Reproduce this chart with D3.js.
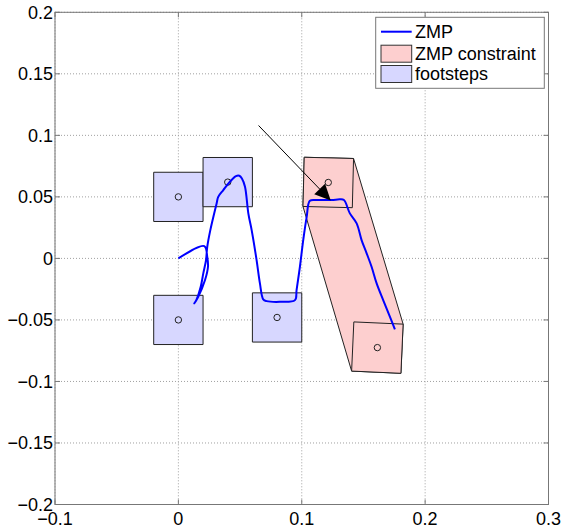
<!DOCTYPE html>
<html>
<head>
<meta charset="utf-8">
<script src="https://cdn.jsdelivr.net/npm/d3@7"></script>
<style>
  body { margin: 0; background: #fff; }
  svg { display: block; font-family: 'Liberation Sans', Arial, sans-serif; }
</style>
</head>
<body>
<div id="chart"></div>
<script>
// ZMP trajectory
const zmpX = [0, 0.021, 0.0234, 0.024, 0.0216, 0.0161, 0.0129, 0.0148, 0.0181, 0.0202, 0.0224, 0.0234,
  0.0259, 0.031, 0.0323, 0.0364, 0.0418, 0.0467, 0.0494, 0.0515, 0.054, 0.0567, 0.0594, 0.0634,
  0.0661, 0.0688, 0.0715, 0.0823, 0.0945, 0.0958, 0.0985, 0.1012, 0.104, 0.1066, 0.112, 0.1242,
  0.131, 0.1342, 0.139, 0.1445, 0.1485, 0.1526, 0.1566, 0.1607, 0.166, 0.1715, 0.1755]
const zmpY = [0, 0.010, 0.0013, -0.0068, -0.0176, -0.0312, -0.0366, -0.0333, -0.0231, -0.0122, -0.0014, 0.0094,
  0.023, 0.0447, 0.050, 0.0555, 0.0623, 0.0669, 0.0672, 0.065, 0.0582, 0.0366, 0.023, -0.0014,
  -0.0203, -0.0333, -0.0347, -0.0353, -0.0339, -0.0258, -0.0068, 0.0149, 0.0338, 0.0468, 0.0474, 0.0474,
  0.048, 0.0474, 0.0366, 0.0285, 0.0149, 0.0041, -0.0068, -0.0203, -0.0339, -0.0475, -0.0577]

// footsteps (centre, yaw)
const stepX = [0, 0.04, 0, 0.08]
const stepY = [0.05, 0.062, -0.05, -0.048]
const stepYaw = [0, 0, 0, 0]

// ZMP constraint footsteps
const consX = [0.1215, 0.1613]
const consY = [0.0617, -0.0725]
const consYaw = [-0.025, -0.045]

const footSize = 0.04

// arrow
const arrowFrom = [0.065, 0.108]
const arrowTo = [0.1235, 0.047]

const xTicks = [-0.1, 0, 0.1, 0.2, 0.3]
const yTicks = [-0.2, -0.15, -0.1, -0.05, 0, 0.05, 0.1, 0.15, 0.2]

const width = 563
const height = 529
const plot = { left: 55, right: 548.5, top: 12.3, bottom: 504.5 }

const svg = d3.select('#chart')
  .append('svg')
  .attr('width', width)
  .attr('height', height)

const x = d3.scaleLinear().domain([-0.1, 0.3]).range([plot.left, plot.right])
const y = d3.scaleLinear().domain([-0.2, 0.2]).range([plot.bottom, plot.top])

// grid
svg.append('g').selectAll('line')
  .data(xTicks)
  .enter().append('line')
  .attr('x1', d => x(d)).attr('x2', d => x(d))
  .attr('y1', plot.top).attr('y2', plot.bottom)
  .attr('stroke', '#a0a0a0')
  .attr('stroke-dasharray', '1 2')

svg.append('g').selectAll('line')
  .data(yTicks)
  .enter().append('line')
  .attr('x1', plot.left).attr('x2', plot.right)
  .attr('y1', d => y(d)).attr('y2', d => y(d))
  .attr('stroke', '#a0a0a0')
  .attr('stroke-dasharray', '1 2')

function corners (cx, cy, yaw) {
  const h = footSize / 2
  return [[-h, -h], [h, -h], [h, h], [-h, h]].map(([dx, dy]) => {
    const px = cx + dx * Math.cos(yaw) - dy * Math.sin(yaw)
    const py = cy + dx * Math.sin(yaw) + dy * Math.cos(yaw)
    return [x(px), y(py)]
  })
}

const pathOf = pts => 'M' + pts.map(p => p.join(',')).join('L') + 'Z'

// ZMP constraint: hull of the two feet plus each foot
const consPts = consX.map((cx, i) => corners(cx, consY[i], consYaw[i]))
const hull = d3.polygonHull(consPts.flat())

svg.append('path')
  .attr('d', pathOf(hull))
  .attr('fill', '#fdcfcf')
  .attr('stroke', '#222')
  .attr('stroke-width', 1)

svg.append('g').selectAll('path')
  .data(consPts)
  .enter().append('path')
  .attr('d', d => pathOf(d))
  .attr('fill', '#fdcfcf')
  .attr('stroke', '#222')
  .attr('stroke-width', 1)

// footsteps
svg.append('g').selectAll('path')
  .data(stepX.map((cx, i) => corners(cx, stepY[i], stepYaw[i])))
  .enter().append('path')
  .attr('d', d => pathOf(d))
  .attr('fill', '#d7d7ff')
  .attr('stroke', '#222')
  .attr('stroke-width', 1)

// centres
const centres = stepX.map((cx, i) => [cx, stepY[i]]).concat(consX.map((cx, i) => [cx, consY[i]]))
svg.append('g').selectAll('circle')
  .data(centres)
  .enter().append('circle')
  .attr('cx', d => x(d[0]))
  .attr('cy', d => y(d[1]))
  .attr('r', 3.2)
  .attr('fill', 'none')
  .attr('stroke', '#222')
  .attr('stroke-width', 1)

// ZMP line
const line = d3.line()
  .x((d, i) => x(zmpX[i]))
  .y((d, i) => y(zmpY[i]))
  .curve(d3.curveCatmullRom.alpha(0.5))

svg.append('path')
  .attr('d', line(zmpX))
  .attr('fill', 'none')
  .attr('stroke', '#0000ff')
  .attr('stroke-width', 2)
  .attr('stroke-linejoin', 'round')

// arrow
const ax0 = x(arrowFrom[0]); const ay0 = y(arrowFrom[1])
const ax1 = x(arrowTo[0]); const ay1 = y(arrowTo[1])
const ang = Math.atan2(ay1 - ay0, ax1 - ax0)
const headLen = 16
const headW = 7.5
const bx = ax1 - headLen * Math.cos(ang)
const by = ay1 - headLen * Math.sin(ang)

svg.append('line')
  .attr('x1', ax0).attr('y1', ay0)
  .attr('x2', bx).attr('y2', by)
  .attr('stroke', '#000')
  .attr('stroke-width', 1)

svg.append('path')
  .attr('d', pathOf([
    [ax1, ay1],
    [bx - headW * Math.sin(ang), by + headW * Math.cos(ang)],
    [bx + headW * Math.sin(ang), by - headW * Math.cos(ang)]
  ]))
  .attr('fill', '#000')

// axes box and ticks
svg.append('rect')
  .attr('x', plot.left).attr('y', plot.top)
  .attr('width', plot.right - plot.left)
  .attr('height', plot.bottom - plot.top)
  .attr('fill', 'none')
  .attr('stroke', '#777')
  .attr('stroke-width', 1)

const tickLen = 5
const ticks = svg.append('g').attr('stroke', '#777')
xTicks.forEach(t => {
  ticks.append('line').attr('x1', x(t)).attr('x2', x(t)).attr('y1', plot.bottom).attr('y2', plot.bottom - tickLen)
  ticks.append('line').attr('x1', x(t)).attr('x2', x(t)).attr('y1', plot.top).attr('y2', plot.top + tickLen)
})
yTicks.forEach(t => {
  ticks.append('line').attr('x1', plot.left).attr('x2', plot.left + tickLen).attr('y1', y(t)).attr('y2', y(t))
  ticks.append('line').attr('x1', plot.right).attr('x2', plot.right - tickLen).attr('y1', y(t)).attr('y2', y(t))
})

svg.append('g').selectAll('text')
  .data(xTicks)
  .enter().append('text')
  .attr('x', d => x(d))
  .attr('y', 524.5)
  .attr('text-anchor', 'middle')
  .attr('font-size', '18px')
  .text(d => d3.format('')(d))

svg.append('g').selectAll('text')
  .data(yTicks)
  .enter().append('text')
  .attr('x', plot.left - 2)
  .attr('y', d => y(d))
  .attr('dy', '0.35em')
  .attr('text-anchor', 'end')
  .attr('font-size', '18px')
  .text(d => d3.format('')(d))

// legend
const legend = svg.append('g')
legend.append('rect')
  .attr('x', 375.7).attr('y', 17.3)
  .attr('width', 168.6).attr('height', 71)
  .attr('fill', '#fff')
  .attr('stroke', '#777')

const legendItems = [
  { name: 'ZMP', type: 'line', color: '#0000ff' },
  { name: 'ZMP constraint', type: 'rect', color: '#fdcfcf' },
  { name: 'footsteps', type: 'rect', color: '#d7d7ff' }
]
const legendY = [31.7, 53.7, 74]

legendItems.forEach((item, i) => {
  const cy = legendY[i]
  if (item.type === 'line') {
    legend.append('line')
      .attr('x1', 381).attr('x2', 411.7)
      .attr('y1', cy).attr('y2', cy)
      .attr('stroke', item.color)
      .attr('stroke-width', 2)
  } else {
    legend.append('rect')
      .attr('x', 381).attr('y', cy - 8.5)
      .attr('width', 30.7).attr('height', 17)
      .attr('fill', item.color)
      .attr('stroke', '#333')
  }
  legend.append('text')
    .attr('x', 415)
    .attr('y', cy)
    .attr('dy', '0.35em')
    .attr('font-size', '18px')
    .text(item.name)
})
</script>
</body>
</html>
